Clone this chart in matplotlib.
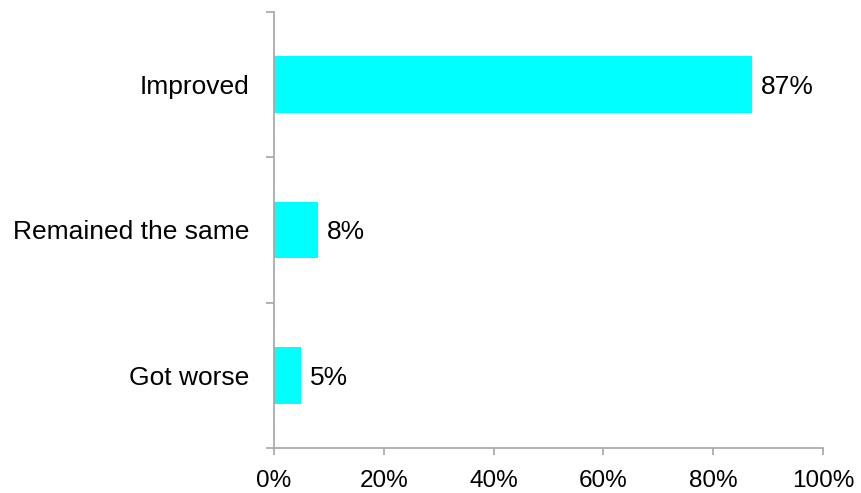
import matplotlib.pyplot as plt
from matplotlib.ticker import FixedLocator

plt.rcParams['font.family'] = ['Liberation Sans', 'DejaVu Sans']

categories = ["Got worse", "Remained the same", "Improved"]
values = [5, 8, 87]
x_ticks = [0, 20, 40, 60, 80, 100]
x_labels = ["0%", "20%", "40%", "60%", "80%", "100%"]

axis_grey = "#a6a6a6"
fs = 19

fig = plt.figure(figsize=(8.61, 4.93), dpi=100)
ax = fig.add_axes([0.3182, 0.0913, 0.9559 - 0.3182, 0.9757 - 0.0913])

pos = list(range(len(categories)))
ax.barh(pos, values, height=0.39, color="#00ffff")

for p, v in zip(pos, values):
    ax.text(v + 1.6, p, f"{v}%", va="center_baseline", ha="left", fontsize=fs)

ax.set_xlim(0, 100)
ax.set_ylim(-0.5, len(categories) - 0.5)

ax.set_xticks(x_ticks)
ax.set_xticklabels(x_labels, fontsize=17.5)
ax.set_yticks(pos)
ax.set_yticklabels(categories, fontsize=fs)
ax.yaxis.set_minor_locator(FixedLocator([-0.5, 0.5, 1.5, 2.5]))

ax.tick_params(axis="y", which="major", length=0, pad=18)
ax.tick_params(axis="y", which="minor", length=6, color=axis_grey, width=1.2, direction="out")
ax.tick_params(axis="x", length=5, color=axis_grey, width=1.2, direction="out", pad=11)

for side in ["top", "right"]:
    ax.spines[side].set_visible(False)
for side in ["left", "bottom"]:
    ax.spines[side].set_color(axis_grey)
    ax.spines[side].set_linewidth(1.2)

fig.savefig("out.png", dpi=100)
